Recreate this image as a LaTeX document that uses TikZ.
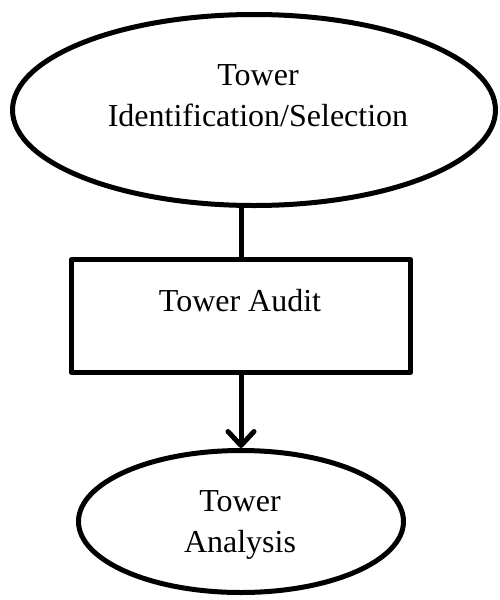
\documentclass[tikz,border=0pt]{standalone}
\usepackage{fontspec}
\setmainfont{Liberation Serif}
\usetikzlibrary{arrows.meta,positioning,shapes.geometric}

\begin{document}
\begin{tikzpicture}[x=1pt, y=-1pt,
  stage/.style={ellipse, draw=black, line width=5pt, inner sep=0pt},
  stepbox/.style={rectangle, draw=black, line width=5pt, inner sep=0pt, line join=round},
  label_txt/.style={font=\fontsize{32}{41}\selectfont, align=center, inner sep=0pt},
  link/.style={draw=black, line width=5pt}
]
\useasboundingbox (0,0) rectangle (499,600);

% Selection stage (top ellipse)
\node[stage, minimum width=483pt, minimum height=191pt] (idsel) at (254,110) {};
\node[label_txt] (idseltxt) at (258,96) {Tower\\Identification/Selection};

% Audit step
\node[stepbox, minimum width=339pt, minimum height=113pt] (audit) at (241,316) {};
\node[label_txt] (audittxt) at (240,301) {Tower Audit};

% Analysis stage (bottom ellipse)
\node[stage, minimum width=325pt, minimum height=142pt] (analysis) at (241,521.5) {};
\node[label_txt] (analysistxt) at (240,525) {Tower\\Analysis};

% Connectors
\draw[link] (audit.north) -- (audit.north |- idsel.south);
\draw[link, -{Straight Barb[length=14pt, width=26pt, round]}] (audit.south) -- (analysis.north);

\end{tikzpicture}
\end{document}
